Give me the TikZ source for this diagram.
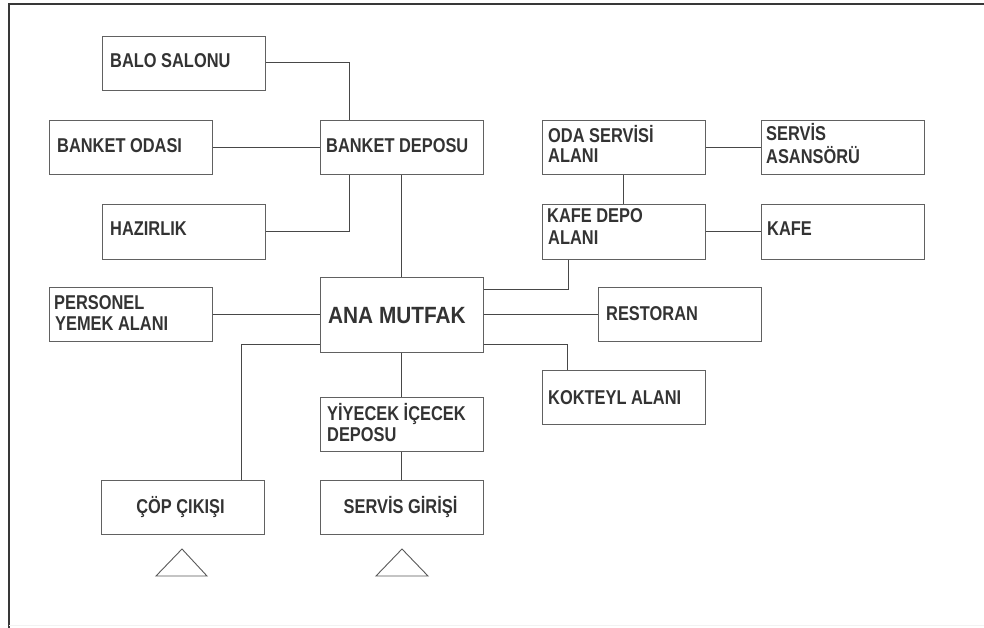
\documentclass[tikz,border=0pt]{standalone}
\usepackage{fontspec}
\newfontfamily\diafont[FakeStretch=0.82]{Liberation Sans Bold}
\newfontfamily\bigfont[FakeStretch=0.885]{Liberation Sans Bold}
\begin{document}
\begin{tikzpicture}[x=1pt,y=-1pt,
  box/.style={draw=black!62, line width=1pt, minimum width=163pt, minimum height=54pt, inner sep=0pt},
  bigbox/.style={box, minimum height=75pt},
  txt/.style={font=\diafont\fontsize{20}{21}\selectfont, text=black!80, inner sep=0pt, align=left},
  bigtxt/.style={font=\bigfont\fontsize{23.5}{26}\selectfont, text=black!80, inner sep=0pt},
  conn/.style={draw=black!72, line width=1pt},
  tri/.style={draw=black!65, line width=0.9pt},
  frameline/.style={draw=black!78, line width=1.2pt}]
\useasboundingbox (0,0) rectangle (984,628);
% frame
\draw[frameline] (9,628) -- (9,4) -- (984,4);
\draw[draw=black!5, line width=0.8pt] (9,625) -- (984,625);
% boxes
\node[box] (balo) at (184,64) {};
\node[box] (bodasi) at (130.5,148) {};
\node[box] (bdepo) at (401.5,148) {};
\node[box] (hazir) at (184,232) {};
\node[box] (personel) at (130.5,314) {};
\node[bigbox] (ana) at (401.5,314.5) {};
\node[box] (cop) at (183,507) {};
\node[box] (yiyecek) at (401.5,424.5) {};
\node[box] (servisg) at (401.5,507) {};
\node[box] (oda) at (623.5,148) {};
\node[box] (asans) at (843,148) {};
\node[box] (kafedepo) at (623.5,232) {};
\node[box] (kafe) at (843,232) {};
\node[box] (restoran) at (680,314) {};
\node[box] (kokteyl) at (623.5,397.5) {};
% texts
\node[txt, anchor=base west] (tbalo) at (110,68) {BALO SALONU};
\node[txt, anchor=base west] (tbodasi) at (57,153) {BANKET ODASI};
\node[txt, anchor=base west] (tbdepo) at (326,153) {BANKET DEPOSU};
\node[txt, anchor=base west] (thazir) at (110,236) {HAZIRLIK};
\node[txt, anchor=base west] (tpers1) at (54,309) {PERSONEL};
\node[txt, anchor=base west] (tpers2) at (55,330) {YEMEK ALANI};
\node[bigtxt, anchor=base west] (tana) at (328,323) {ANA MUTFAK};
\node[txt, anchor=base] (tcop) at (180.5,513) {ÇÖP ÇIKIŞI};
\node[txt, anchor=base west] (tyiy1) at (327,420) {YİYECEK İÇECEK};
\node[txt, anchor=base west] (tyiy2) at (327,441) {DEPOSU};
\node[txt, anchor=base] (tservg) at (400.5,513) {SERVİS GİRİŞİ};
\node[txt, anchor=base west] (toda1) at (548,143) {ODA SERVİSİ};
\node[txt, anchor=base west] (toda2) at (548,163) {ALANI};
\node[txt, anchor=base west] (tas1) at (766,141) {SERVİS};
\node[txt, anchor=base west] (tas2) at (766,164) {ASANSÖRÜ};
\node[txt, anchor=base west] (tkd1) at (547,223) {KAFE DEPO};
\node[txt, anchor=base west] (tkd2) at (548,244) {ALANI};
\node[txt, anchor=base west] (tkafe) at (767,236) {KAFE};
\node[txt, anchor=base west] (trest) at (606,320) {RESTORAN};
\node[txt, anchor=base west] (tkok) at (548,404) {KOKTEYL ALANI};
% connectors
\draw[conn] ([yshift=1pt]balo.east) -| ([xshift=30pt]bdepo.north west);
\draw[conn] (hazir.east) -| ([xshift=30pt]bdepo.south west);
\draw[conn] (bodasi.east) -- (bdepo.west);
\draw[conn] (bdepo.south) -- (ana.north);
\draw[conn] (personel.east) -- (personel.east -| ana.west);
\draw[conn] ([yshift=8pt]ana.south west) -| ([xshift=-24pt]cop.north east);
\draw[conn] (ana.south) -- (yiyecek.north);
\draw[conn] (yiyecek.south) -- (servisg.north);
\draw[conn] (oda.east) -- (asans.west);
\draw[conn] (oda.south) -- (kafedepo.north);
\draw[conn] (kafedepo.east) -- (kafe.west);
\draw[conn] ([xshift=27pt]kafedepo.south west) |- ([yshift=-13pt]ana.north east);
\draw[conn] (restoran.west -| ana.east) -- (restoran.west);
\draw[conn] ([yshift=8pt]ana.south east) -| ([xshift=26pt]kokteyl.north west);
% triangles
\draw[tri] (156,576) -- (182,549) -- (207,576) -- cycle;
\draw[tri] (376,576) -- (402,549) -- (428,576) -- cycle;
\end{tikzpicture}
\end{document}
